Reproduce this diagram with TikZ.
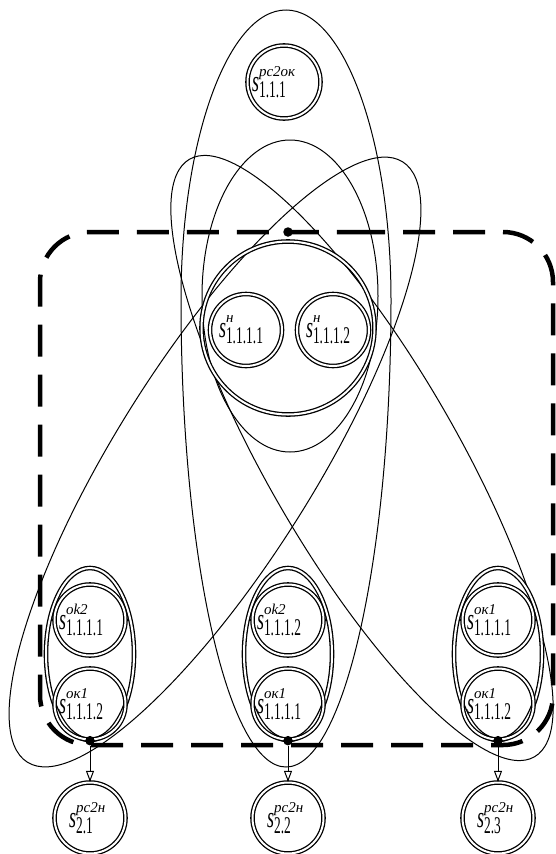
\documentclass[tikz,border=0pt]{standalone}
\usepackage{fontspec}
\setmainfont{Liberation Serif}
\usepackage{graphicx}
\usetikzlibrary{arrows.meta,shapes.geometric}

% state label: s with superscript and subscript, condensed like the original
\newcommand{\stlbl}[3][18pt]{\scalebox{0.6}[1]{\fontsize{30}{30}\selectfont\itshape s}\rlap{\raisebox{15pt}{\fontsize{15}{15}\selectfont\itshape #2}}\raisebox{-6pt}{\scalebox{0.56}[1]{\fontsize{24}{24}\selectfont #3}}\kern#1}

\begin{document}
\begin{tikzpicture}[x=1pt, y=-1pt,
    st/.style={circle, draw, double, double distance=2pt, line width=1.3pt, minimum size=71pt, inner sep=0pt},
    grp/.style={ellipse, draw, double, double distance=2pt, line width=1.3pt, minimum width=88pt, minimum height=172pt, inner sep=0pt},
    thinloop/.style={line width=1pt},
    frame/.style={line width=4.5pt, dash pattern=on 32pt off 18pt, rounded corners=50pt},
    dot/.style={circle, fill, inner sep=0pt, minimum size=9.5pt},
    flow/.style={line width=1pt, -{Triangle[open, length=11pt, width=8pt]}}]
    \useasboundingbox (0,0) rectangle (555,854);

    % loops
    \draw[thinloop] (181,300) arc[start angle=180, end angle=0, x radius=105pt, y radius=290pt]
                    arc[start angle=0, end angle=-180, x radius=105pt, y radius=467pt];
    \draw[thinloop] (290,296) ellipse [x radius=88pt, y radius=156pt];
    \draw[thinloop, rotate around={58:(215,462)}] (215,462) ellipse [x radius=354pt, y radius=100pt];
    \draw[thinloop, rotate around={120:(362,458)}] (362,458) ellipse [x radius=345pt, y radius=95pt];

    % frame
    \draw[frame] (303,232) -- (553,232) -- (553,745) -- (40,745) -- (40,232) -- cycle;

    % upper states
    \node[st, minimum size=73pt] (top) at (284,82) {\stlbl[30pt]{рс2ок}{1.1.1}};
    \node[st, minimum size=173pt] (big) at (288,328) {};
    \node[st, minimum size=72pt] (n1) at (246,330) {\stlbl[10pt]{н}{1.1.1.1}};
    \node[st, minimum size=72pt] (n2) at (333,330) {\stlbl[10pt]{н}{1.1.1.2}};
    \node[dot] (dtop) at (288,232) {};

    % left group
    \node[grp] (g1) at (90,654) {};
    \node[st] (u1) at (90,620) {\stlbl{ok2}{1.1.1.1}};
    \node[st] (l1) at (90,704) {\stlbl{ок1}{1.1.1.2}};
    \node[st] (b1) at (90,818) {\stlbl{рс2н}{2.1}};
    \node[dot] (d1) at (g1.south) {};
    \draw[flow] (d1) -- (b1);

    % middle group
    \node[grp] (g2) at (288,654) {};
    \node[st] (u2) at (288,620) {\stlbl{ok2}{1.1.1.2}};
    \node[st] (l2) at (288,704) {\stlbl{ок1}{1.1.1.1}};
    \node[st] (b2) at (288,818) {\stlbl{рс2н}{2.2}};
    \node[dot] (d2) at (g2.south) {};
    \draw[flow] (d2) -- (b2);

    % right group
    \node[grp] (g3) at (498,654) {};
    \node[st] (u3) at (498,620) {\stlbl{ок1}{1.1.1.1}};
    \node[st] (l3) at (498,704) {\stlbl{ок1}{1.1.1.2}};
    \node[st] (b3) at (498,818) {\stlbl{рс2н}{2.3}};
    \node[dot] (d3) at (g3.south) {};
    \draw[flow] (d3) -- (b3);
\end{tikzpicture}
\end{document}
